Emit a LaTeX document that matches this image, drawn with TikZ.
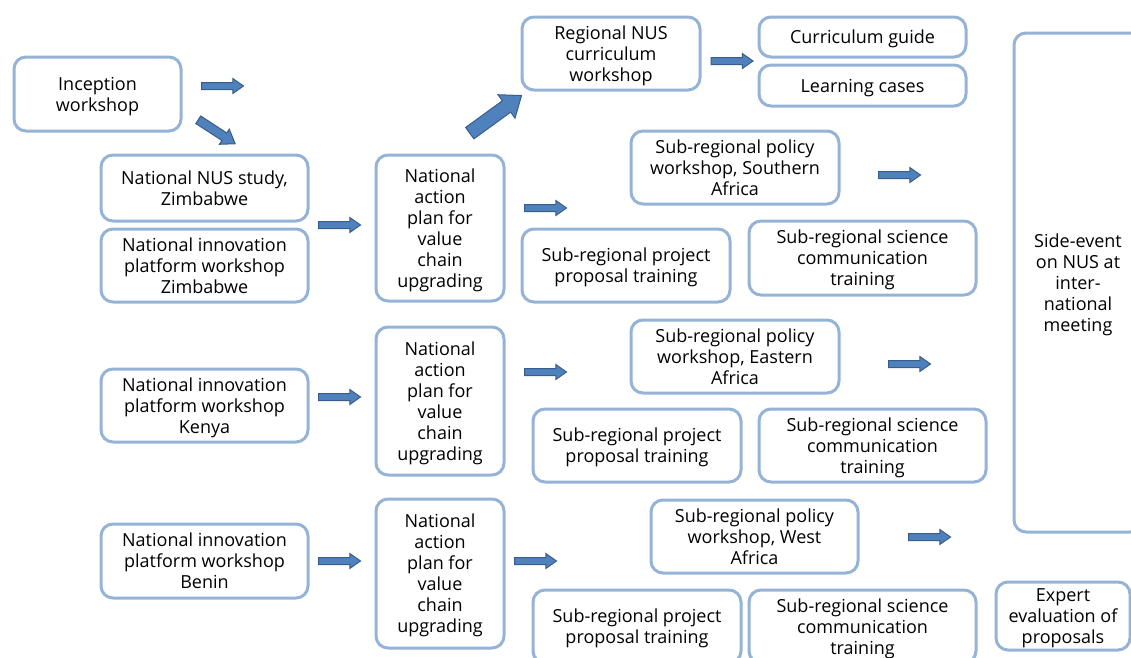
\documentclass[tikz,border=0pt]{standalone}
\usepackage{fontspec}
\setmainfont{Open Sans}
\usetikzlibrary{shapes.arrows}

\definecolor{boxline}{HTML}{95B3D7}
\definecolor{arrfill}{HTML}{4F81BD}
\definecolor{arrline}{HTML}{385D8A}

\tikzset{
  stage/.style={draw=boxline, line width=2.25pt, rounded corners=9pt,
    fill=white, align=center, inner sep=0pt, text depth=-4.5pt,
    font=\fontsize{13.5}{15.75}\selectfont},
  wh/.style 2 args={minimum width={#1*0.75pt}, minimum height={#2*0.75pt}},
  flow/.style={single arrow, draw=arrline, fill=arrfill, line width=0.75pt,
    inner sep=0pt, inner ysep=2.25pt, minimum height=31.5pt,
    minimum width=0pt, single arrow head extend=3pt,
    single arrow tip angle=70},
}

\begin{document}
\begin{tikzpicture}[x=0.75pt, y=-0.75pt]
    \useasboundingbox (0,0) rectangle (1131,657);
    \clip (0,0) rectangle (1131,657);
        % start
        \node[stage, wh={167}{74}] (incep) at (97.5,94) {Inception\\workshop};
        \node[flow] (a1) at (220,86) {};
        \node[flow, rotate=-33, inner ysep=3pt, single arrow head extend=3.4pt,
              minimum height=33pt] (a2) at (214,130) {};
        % Zimbabwe
        \node[stage, wh={207}{66}] (nusz) at (204.5,188) {National NUS study,\\Zimbabwe};
        \node[stage, wh={207}{73}] (ipz) at (204.5,265.5) {National innovation\\platform workshop\\Zimbabwe};
        \node[flow] (a3) at (337,225) {};
        \node[stage, wh={128}{146}] (nap1) at (440,228) {National\\action\\plan for\\value\\chain\\upgrading};
        \node[flow, rotate=36, inner ysep=4.9pt, single arrow head extend=5.6pt,
              minimum height=48pt, single arrow tip angle=76] (a4) at (492,117) {};
        \node[stage, wh={178}{73}] (regc) at (611,53.5) {Regional NUS\\curriculum\\workshop};
        \node[flow] (a5) at (729.5,61) {};
        \node[stage, wh={207}{40}] (cguide) at (862.5,37) {Curriculum guide};
        \node[stage, wh={207}{41}] (lcases) at (862.5,85.5) {Learning cases};
        \node[flow] (a6) at (543,208) {};
        \node[stage, wh={208}{73}] (polS) at (735,167.5) {Sub-regional policy\\workshop, Southern\\Africa};
        \node[flow] (a7) at (897,175) {};
        \node[stage, wh={208}{73}] (propS) at (626,265.5) {Sub-regional project\\proposal training};
        \node[stage, wh={227}{74}] (sciS) at (862.5,258) {Sub-regional science\\communication\\training};
        % side event
        \node[stage, wh={128}{499}] (side) at (1078,282.5) {Side-event\\on NUS at\\inter-\\national\\meeting};
        % Kenya
        \node[stage, wh={207}{73}] (ipK) at (204.5,405.5) {National innovation\\platform workshop\\Kenya};
        \node[flow] (a8) at (337,397) {};
        \node[stage, wh={128}{148}] (nap2) at (440,401) {National\\action\\plan for\\value\\chain\\upgrading};
        \node[flow] (a9) at (543,372) {};
        \node[stage, wh={208}{73}] (polE) at (735,356.5) {Sub-regional policy\\workshop, Eastern\\Africa};
        \node[flow] (a10) at (907,364) {};
        \node[stage, wh={208}{73}] (propE) at (637,445.5) {Sub-regional project\\proposal training};
        \node[stage, wh={227}{73}] (sciE) at (872.5,445.5) {Sub-regional science\\communication\\training};
        % Benin
        \node[stage, wh={207}{74}] (ipB) at (204.5,561) {National innovation\\platform workshop\\Benin};
        \node[flow] (a11) at (337,561) {};
        \node[stage, wh={128}{149}] (nap3) at (440,573.5) {National\\action\\plan for\\value\\chain\\upgrading};
        \node[flow] (a12) at (533,561) {};
        \node[stage, wh={207}{73}] (polW) at (754.5,536.5) {Sub-regional policy\\workshop, West\\Africa};
        \node[flow] (a13) at (927,537) {};
        \node[stage, wh={208}{73}] (propW) at (637,626.5) {Sub-regional project\\proposal training};
        \node[stage, wh={227}{73}] (sciW) at (862.5,626.5) {Sub-regional science\\communication\\training};
        \node[stage, wh={134}{68}] (expert) at (1063,616) {Expert\\evaluation of\\proposals};
\end{tikzpicture}
\end{document}
